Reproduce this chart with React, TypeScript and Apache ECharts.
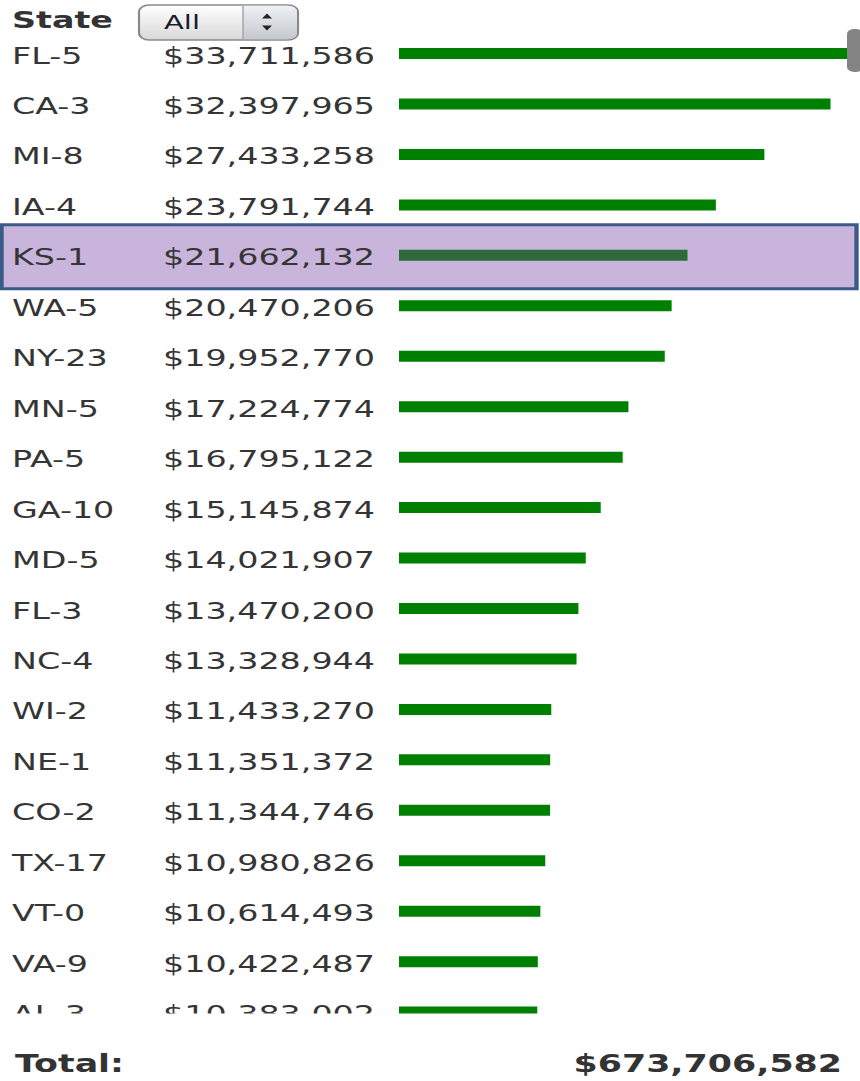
import React, { useEffect, useRef } from "react";
import * as echarts from "echarts";

const districts = ["FL-5", "CA-3", "MI-8", "IA-4", "KS-1", "WA-5", "NY-23", "MN-5", "PA-5", "GA-10", "MD-5", "FL-3", "NC-4", "WI-2", "NE-1", "CO-2", "TX-17", "VT-0", "VA-9", "AL-3"];
const amounts = [33711586, 32397965, 27433258, 23791744, 21662132, 20470206, 19952770, 17224774, 16795122, 15145874, 14021907, 13470200, 13328944, 11433270, 11351372, 11344746, 10980826, 10614493, 10422487, 10383002];
const highlighted = "KS-1";
const filterLabel = "State";
const filterValue = "All";
const totalLabel = "Total:";
const totalAmount = 673706582;

const W = 593;
const H = 1081;
const SX = 860 / W;
const px = (x: number) => x / SX;
const FONT = '"DejaVu Sans", Verdana, sans-serif';
const FS = 23;
const fmt = (v: number) => "$" + v.toLocaleString("en-US");

export default function App() {
  const ref = useRef<HTMLDivElement>(null);
  useEffect(() => {
    const el = ref.current!;
    const chart = echarts.init(el, null, { renderer: "svg", width: W, height: H });
    chart.setOption({
      animation: false,
      grid: { left: px(399), width: px(449), top: 28.3, height: 1009 },
      xAxis: { type: "value", min: 0, max: Math.max(...amounts), show: false },
      yAxis: {
        type: "category",
        inverse: true,
        data: districts,
        z: 5,
        axisLine: { show: false },
        axisTick: { show: false },
        splitLine: { show: false },
        axisLabel: {
          align: "left",
          margin: px(399 - 12),
          formatter: (v: string) => `{t|${v}}`,
          rich: {
            t: {
              color: "#353535",
              fontSize: FS,
              fontFamily: FONT,
              padding: [4, 0, 0, 0],
            },
          },
        },
      },
      series: [
        {
          type: "bar",
          z: 4,
          barWidth: 11,
          data: amounts.map((v, i) => ({
            value: v,
            itemStyle: districts[i] === highlighted ? { color: "#2c6a3c" } : undefined,
          })),
          itemStyle: { color: "#008000" },
          label: {
            show: true,
            position: "left",
            distance: px(399 - 375),
            offset: [0, 2],
            formatter: (p: any) => fmt(p.value),
            color: "#353535",
            fontSize: FS,
            fontFamily: FONT,
          },
        },
      ],
    });
    const c = chart.convertToPixel({ yAxisIndex: 0 }, highlighted) as number;
    chart.setOption({
      graphic: [
        {
          type: "rect",
          z: 1,
          shape: { x: px(1.5), y: c - 30.5, width: px(855), height: 64 },
          style: { fill: "#c9b4db", stroke: "#3a5a88", lineWidth: 3 },
        },
        {
          type: "rect",
          z: 20,
          shape: { x: 0, y: 1013.5, width: W, height: 30 },
          style: { fill: "#ffffff" },
        },
        {
          type: "rect",
          z: 20,
          shape: { x: px(847), y: 29, width: px(16), height: 43, r: 5 },
          style: { fill: "#848484" },
        },
        {
          type: "text",
          z: 20,
          x: px(12),
          y: 20,
          style: { text: filterLabel, fill: "#333", fontSize: FS, fontWeight: "bold", fontFamily: FONT, verticalAlign: "middle" },
        },
        {
          type: "rect",
          z: 20,
          shape: { x: px(139), y: 5, width: px(159), height: 35, r: 7 },
          style: {
            fill: new echarts.graphic.LinearGradient(0, 0, 0, 1, [
              { offset: 0, color: "#ffffff" },
              { offset: 1, color: "#d8d8d8" },
            ]),
            stroke: "#8a8a8a",
            lineWidth: 1.5,
          },
        },
        {
          type: "rect",
          z: 21,
          shape: { x: px(243), y: 5.75, width: px(54), height: 33.5, r: [0, 6, 6, 0] },
          style: {
            fill: new echarts.graphic.LinearGradient(0, 0, 0, 1, [
              { offset: 0, color: "#eef1f5" },
              { offset: 1, color: "#c4c8ce" },
            ]),
          },
        },
        {
          type: "line",
          z: 22,
          shape: { x1: px(243), y1: 5.75, x2: px(243), y2: 39.25 },
          style: { stroke: "#a0a4aa", lineWidth: 1 },
        },
        {
          type: "polygon",
          z: 22,
          shape: { points: [[px(262), 18.5], [px(272), 18.5], [px(267), 13.5]] },
          style: { fill: "#222" },
        },
        {
          type: "polygon",
          z: 22,
          shape: { points: [[px(262), 25.5], [px(272), 25.5], [px(267), 30.5]] },
          style: { fill: "#222" },
        },
        {
          type: "text",
          z: 22,
          x: px(164),
          y: 22.5,
          style: { text: filterValue, fill: "#1a1a2a", fontSize: 20, fontFamily: FONT, verticalAlign: "middle" },
        },
        {
          type: "text",
          z: 20,
          x: px(15),
          y: 1064,
          style: { text: totalLabel, fill: "#333", fontSize: 24, fontWeight: "bold", fontFamily: FONT, verticalAlign: "middle" },
        },
        {
          type: "text",
          z: 20,
          x: px(842),
          y: 1064,
          style: { text: fmt(totalAmount), fill: "#333", fontSize: 24, fontWeight: "bold", fontFamily: FONT, verticalAlign: "middle", align: "right" },
        },
      ],
    });
    return () => chart.dispose();
  }, []);
  return (
    <div
      ref={ref}
      style={{
        position: "absolute",
        left: 0,
        top: 0,
        width: W,
        height: H,
        transform: `scaleX(${SX})`,
        transformOrigin: "0 0",
      }}
    />
  );
}
